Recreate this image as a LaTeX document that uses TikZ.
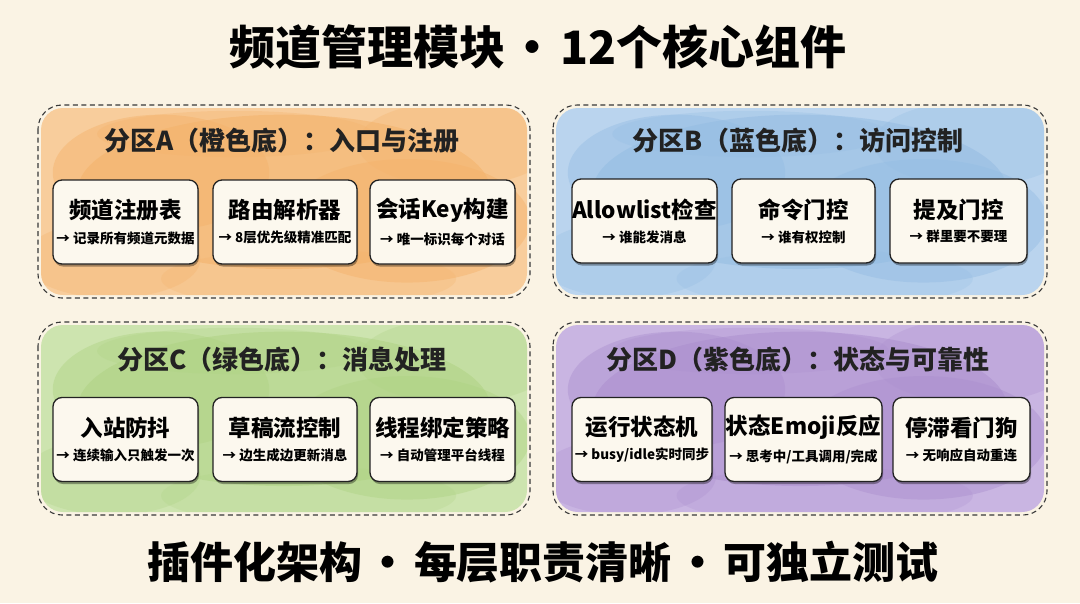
\documentclass[tikz,border=0pt]{standalone}
\usepackage{fontspec}
\setmainfont{Noto Sans CJK SC}
\usetikzlibrary{shadows}
\definecolor{bg}{HTML}{FAF3E4}
\definecolor{ink}{HTML}{222222}
\definecolor{cardfill}{HTML}{FCF8EE}
\definecolor{orA}{HTML}{F4B26A}
\definecolor{orL}{HTML}{F8CD9C}
\definecolor{blA}{HTML}{95BDE3}
\definecolor{blL}{HTML}{BAD4EE}
\definecolor{grA}{HTML}{AFD384}
\definecolor{grL}{HTML}{CDE4AF}
\definecolor{puA}{HTML}{AC90CF}
\definecolor{puL}{HTML}{C9B5E2}
\tikzset{
  panelbox/.style={draw=ink!90, dash pattern=on 5pt off 3.5pt, line width=1.1pt, rounded corners=24pt},
  card/.style={draw=ink, line width=1.3pt, fill=cardfill, rounded corners=9pt, align=center,
    inner sep=0pt, minimum height=84pt,
    drop shadow={shadow xshift=1pt, shadow yshift=-2.5pt, opacity=0.35, fill=black}},
  paneltitle/.style={font=\fontsize{26}{30}\selectfont\bfseries, text=ink},
  toptitle/.style={font=\fontsize{46}{54}\selectfont\bfseries, text=black},
  bottitle/.style={font=\fontsize{43}{50}\selectfont\bfseries, text=black},
}
\newcommand{\sepA}{\hspace{0.1em}·\hspace{0.1em}}
\newcommand{\sepB}{\hspace{0.1em}·\hspace{0.1em}}
\newcommand{\wash}[6]{%
  \begin{scope}
    \clip[rounded corners=22pt] (#1+3,#2+3) rectangle (#3-3,#4-3);
    \fill[#6] (#1,#2) rectangle (#3,#4);
    \foreach \u/\v/\rx/\ry/\o in {0.5/0.45/0.42/0.40/0.55, 0.25/0.35/0.22/0.30/0.45, 0.75/0.6/0.25/0.32/0.45, 0.15/0.8/0.18/0.2/0.3, 0.85/0.2/0.2/0.22/0.3, 0.55/0.9/0.3/0.15/0.25, 0.4/0.15/0.28/0.12/0.3}
      \fill[#5, opacity=\o] ({#1+\u*(#3-#1)},{#2+\v*(#4-#2)}) ellipse [x radius={\rx*(#3-#1)}, y radius={\ry*(#4-#2)}];
  \end{scope}}
\newcommand{\mkcard}[6]{%
  \node[card, minimum width=#4pt] (#1) at (#2,#3)
    {{\fontsize{22.5}{27}\selectfont\bfseries #5}\\[9pt]{\fontsize{13.5}{16}\selectfont\bfseries #6}};}
\begin{document}
\begin{tikzpicture}[x=1pt,y=-1pt]
  \fill[bg] (0,0) rectangle (1080,603);
  \useasboundingbox (0,0) rectangle (1080,603);

  \node[toptitle] (title) at (538,47) {频道管理模块\sepA 12个核心组件};
  \node[bottitle] (footer) at (543,562) {插件化架构\sepB 每层职责清晰\sepB 可独立测试};

  % panel washes
  \wash{38}{105}{530}{298}{orA}{orL}
  \wash{553}{105}{1047}{298}{blA}{blL}
  \wash{38}{322}{530}{515}{grA}{grL}
  \wash{553}{322}{1047}{515}{puA}{puL}

  \draw[panelbox] (38,105) rectangle (530,298);
  \draw[panelbox] (553,105) rectangle (1047,298);
  \draw[panelbox] (38,322) rectangle (530,515);
  \draw[panelbox] (553,322) rectangle (1047,515);

  \node[paneltitle] (tA) at (282,141) {分区A（橙色底）：入口与注册};
  \node[paneltitle] (tB) at (798,141) {分区B（蓝色底）：访问控制};
  \node[paneltitle] (tC) at (282,360) {分区C（绿色底）：消息处理};
  \node[paneltitle] (tD) at (798,360) {分区D（紫色底）：状态与可靠性};

  \mkcard{a1}{125.5}{222}{145}{频道注册表}{→ 记录所有频道元数据}
  \mkcard{a2}{285}{222}{144}{路由解析器}{→ 8层优先级精准匹配}
  \mkcard{a3}{442.5}{222}{145}{会话Key构建}{→ 唯一标识每个对话}

  \mkcard{b1}{644.5}{221}{145}{Allowlist检查}{→ 谁能发消息}
  \mkcard{b2}{803.5}{221}{143}{命令门控}{→ 谁有权控制}
  \mkcard{b3}{958.5}{221}{137}{提及门控}{→ 群里要不要理}

  \mkcard{c1}{125.5}{439.5}{145}{入站防抖}{→ 连续输入只触发一次}
  \mkcard{c2}{285}{439.5}{144}{草稿流控制}{→ 边生成边更新消息}
  \mkcard{c3}{442.5}{439.5}{145}{线程绑定策略}{→ 自动管理平台线程}

  \mkcard{d1}{642}{439.5}{140}{运行状态机}{→ busy/idle实时同步}
  \mkcard{d2}{803.5}{439.5}{157}{状态Emoji反应}{→ 思考中/工具调用/完成}
  \mkcard{d3}{961.5}{439.5}{137}{停滞看门狗}{→ 无响应自动重连}
\end{tikzpicture}
\end{document}
